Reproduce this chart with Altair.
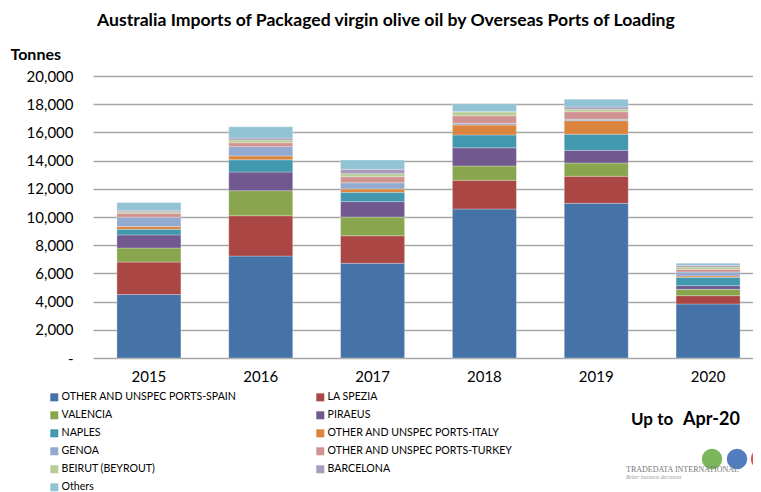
import altair as alt
import pandas as pd

years = ["2015", "2016", "2017", "2018", "2019", "2020"]
ports = [
    "OTHER AND UNSPEC PORTS-SPAIN", "LA SPEZIA", "VALENCIA", "PIRAEUS", "NAPLES",
    "OTHER AND UNSPEC PORTS-ITALY", "GENOA", "OTHER AND UNSPEC PORTS-TURKEY",
    "BEIRUT (BEYROUT)", "BARCELONA", "Others",
]
colors = ["#4572A7", "#AA4643", "#89A54E", "#71588F", "#4198AF", "#DB843D",
          "#93A9CF", "#D19392", "#B9CD96", "#A99BBD", "#92C3D4"]

spain = [4500, 7230, 6720, 10570, 10970, 3830]
la_spezia = [2300, 2860, 1950, 2030, 1920, 590]
valencia = [1000, 1780, 1330, 1020, 940, 450]
piraeus = [930, 1320, 1090, 1290, 900, 260]
naples = [400, 870, 660, 910, 1140, 590]
italy = [200, 270, 240, 700, 960, 100]
genoa = [660, 660, 440, 120, 100, 280]
turkey = [280, 280, 430, 540, 540, 190]
beirut = [100, 190, 210, 270, 170, 160]
barcelona = [100, 140, 310, 30, 160, 120]
others = [550, 800, 660, 560, 550, 150]

series = [spain, la_spezia, valencia, piraeus, naples, italy, genoa, turkey,
          beirut, barcelona, others]

rows = []
for i, (port, vals) in enumerate(zip(ports, series)):
    for y, v in zip(years, vals):
        rows.append({"Year": y, "Port": port, "Tonnes": v, "idx": i})
df = pd.DataFrame(rows)

# legend is laid out column by column: even entries in column 1, odd in column 2
legend_order = ports[0::2] + ports[1::2]
legend_colors = colors[0::2] + colors[1::2]

FONT = "Lato"
W, H = 660, 282

bars = alt.Chart(df).mark_bar(size=64, stroke="white", strokeWidth=0.4, strokeOpacity=0.7).encode(
    x=alt.X("Year:O", sort=years,
            scale=alt.Scale(range=[0, 671], paddingInner=0, paddingOuter=0),
            axis=alt.Axis(title=None, labelAngle=0, labelFont=FONT, labelFontSize=15,
                          labelColor="black", labelPadding=11, ticks=False, domain=False)),
    y=alt.Y("sum(Tonnes):Q",
            scale=alt.Scale(domain=[0, 20000], nice=False),
            axis=alt.Axis(values=list(range(0, 20001, 2000)),
                          labelExpr="datum.value == 0 ? '-\u00a0\u00a0\u00a0' : format(datum.value, ',')",
                          labelFont=FONT, labelFontSize=15, labelColor="black",
                          labelPadding=20, ticks=False, tickSize=0, domain=False,
                          grid=True, gridColor="#A6A6A6", gridWidth=1.5,
                          title="Tonnes", titleAngle=0, titleX=-83, titleY=-17,
                          titleAlign="left", titleBaseline="alphabetic",
                          titleFont=FONT, titleFontSize=16, titleFontWeight="bold",
                          titleColor="black")),
    color=alt.Color("Port:N", sort=legend_order,
                    scale=alt.Scale(domain=legend_order, range=legend_colors),
                    legend=alt.Legend(orient="none", legendX=-44, legendY=316,
                                      columns=2, columnPadding=78, rowPadding=7,
                                      symbolType="square", symbolSize=64,
                                      symbolStrokeWidth=0, labelFont=FONT,
                                      labelFontSize=10.6, labelColor="black",
                                      labelOffset=2, labelLimit=0, title=None)),
    order=alt.Order("idx:Q", sort="ascending"),
)

one = pd.DataFrame({"t": ["x"]})

def label(text, x, y, size, weight="normal", align="left", color="black", font=FONT, style="normal"):
    return alt.Chart(one).mark_text(
        text=text, align=align, baseline="alphabetic", fontSize=size,
        fontWeight=weight, color=color, font=font, fontStyle=style,
    ).encode(x=alt.value(x), y=alt.value(y))

title = label("Australia Imports of Packaged virgin olive oil by Overseas Ports of Loading",
              4, -50, 17.6, "bold")
upto = label("Up to", 538, 349, 17, "bold")
apr = label("Apr-20", 590, 349, 18, "bold")
logo = label("TRADEDATA INTERNATIONAL", 533, 396, 8, color="#777777", font="Liberation Serif")
tag = label("Better business decisions", 533, 403, 5.5, color="#999999",
            font="Liberation Serif", style="italic")

def globe(x, c):
    return alt.Chart(one).mark_circle(opacity=0.9).encode(
        x=alt.value(x), y=alt.value(383), size=alt.value(420), color=alt.value(c))

g1 = globe(619, "#6BAF4A")
g2 = globe(644, "#3F6FB8")
g3 = globe(668, "#D9443C")

chart = alt.layer(bars, title, upto, apr, g1, g2, g3, logo, tag).properties(
    width=W, height=H,
    autosize=alt.AutoSizeParams(type="none"),
    padding={"left": 85, "top": 68, "right": 0, "bottom": 134},
).configure_view(stroke=None)

chart.save("out.html", embed_options={"renderer": "svg", "actions": False})
